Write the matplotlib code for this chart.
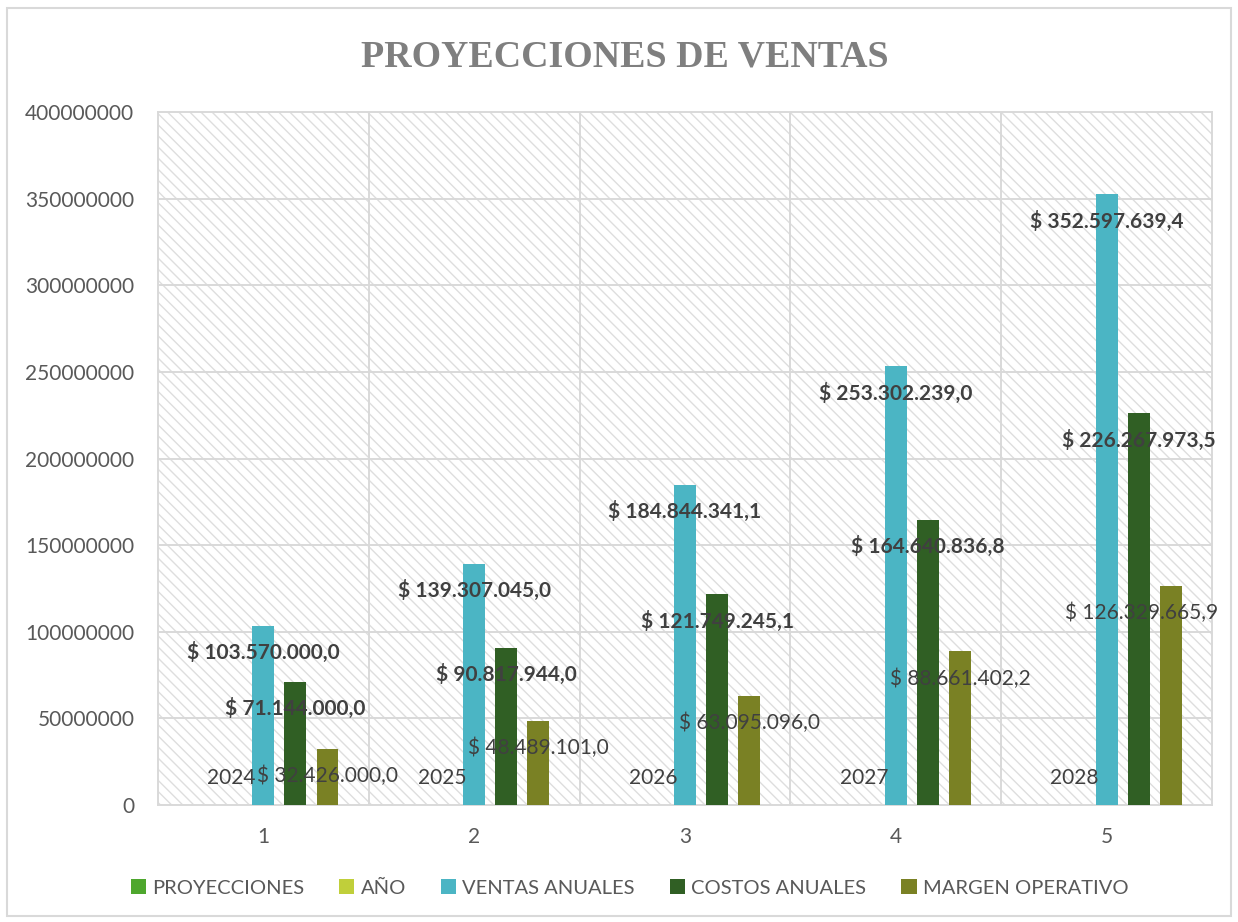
import numpy as np
import matplotlib.pyplot as plt
from matplotlib.patches import Patch, Rectangle

plt.rcParams['font.family'] = ['Lato', 'DejaVu Sans']
plt.rcParams['hatch.color'] = '#dedede'
plt.rcParams['hatch.linewidth'] = 1.0

categorias = [1, 2, 3, 4, 5]
anio = [2024, 2025, 2026, 2027, 2028]
proyecciones = [np.nan] * 5
ventas = [103570000.0, 139307045.0, 184844341.1, 253302239.0, 352597639.4]
costos = [71144000.0, 90817944.0, 121749245.1, 164640836.8, 226267973.5]
margen = [32426000.0, 48489101.0, 63095096.0, 88661402.2, 126329665.9]

series = ['PROYECCIONES', 'AÑO', 'VENTAS ANUALES', 'COSTOS ANUALES', 'MARGEN OPERATIVO']
colores = ['#4ea72e', '#c0cf3a', '#4bb5c4', '#305f24', '#7a8124']


def pesos(v):
    s = f"{v:,.1f}".replace(",", "X").replace(".", ",").replace("X", ".")
    return "$ " + s


fig = plt.figure(figsize=(12.38, 9.22), dpi=100)
ax = fig.add_axes([158/1238, 1-805/922, (1212-158)/1238, (805-112)/922])
ax.set_facecolor('white')
ax.patch.set_hatch('\\\\\\')
ax.patch.set_edgecolor('#dedede')

x = np.array(categorias, dtype=float)
paso = 0.152
ancho = 0.104
datos = [proyecciones, anio, ventas, costos, margen]
for i, (d, c) in enumerate(zip(datos, colores)):
    ax.bar(x + (i-2)*paso, d, width=ancho, color=c, zorder=3)

# etiquetas
etiquetas = []
for xi, v in zip(x - paso, anio):
    etiquetas.append(ax.annotate(str(v), (xi, v), xytext=(0, 19.5), textcoords='offset points',
                                 ha='center', va='center', fontsize=15, color='#404040', zorder=5))
for xi, v in zip(x, ventas):
    etiquetas.append(ax.annotate(pesos(v), (xi, v), xytext=(0, -19.5), textcoords='offset points',
                                 ha='center', va='center', fontsize=15, fontweight='bold',
                                 color='#404040', zorder=5))
for xi, v in zip(x + paso, costos):
    etiquetas.append(ax.annotate(pesos(v), (xi, v), xytext=(0, -19.5), textcoords='offset points',
                                 ha='center', va='center', fontsize=15, fontweight='bold',
                                 color='#404040', zorder=5))
for xi, v in zip(x + 2*paso, margen):
    etiquetas.append(ax.annotate(pesos(v), (xi, v), xytext=(0, -19.5), textcoords='offset points',
                                 ha='center', va='center', fontsize=15, color='#404040', zorder=5))

ax.set_xlim(0.5, 5.5)
ax.set_ylim(0, 400000000)
ax.set_yticks(np.arange(0, 400000001, 50000000))
ax.set_yticklabels([str(int(t)) for t in np.arange(0, 400000001, 50000000)])
ax.set_xticks(x)
ax.set_xticklabels([str(c) for c in categorias])
ax.tick_params(length=0, labelsize=15, labelcolor='#595959')
ax.tick_params(axis='x', pad=16)
ax.tick_params(axis='y', pad=17)
for yv in np.arange(50000000, 400000000, 50000000):
    ax.axhline(yv, color='#d9d9d9', lw=1.4, zorder=1)
for xv in np.arange(1.5, 5.5, 1):
    ax.axvline(xv, color='#d9d9d9', lw=1.4, zorder=1)
for s in ax.spines.values():
    s.set_color('#d9d9d9')
    s.set_linewidth(1.4)

fig.text(0.505, 1-57/922, 'PROYECCIONES DE VENTAS', ha='center', va='center',
         fontsize=27.3, fontweight='bold', color='#7f7f7f', family='Liberation Serif')

manijas = [Patch(facecolor=c, edgecolor='none') for c in colores]
fig.legend(manijas, series, loc='center', bbox_to_anchor=(0.5085, 1-888/922), ncol=5,
           frameon=False, fontsize=14.5, labelcolor='#595959', handlelength=0.75,
           handleheight=0.75, handletextpad=0.3, columnspacing=1.75)

fig.patches.append(Rectangle((7/1238, 6/922), 1-14/1238, 1-14/922, transform=fig.transFigure,
                             fill=False, edgecolor='#d9d9d9', lw=1.5))

# como Excel: mover etiquetas que se salen del grafico
fig.canvas.draw()
r = fig.canvas.get_renderer()
borde = fig.bbox.width - 20
for t in etiquetas:
    bb = t.get_window_extent(r)
    if bb.x1 > borde:
        dx, dy = t.xyann
        t.xyann = (dx - (bb.x1 - borde) * 72 / fig.dpi, dy)

fig.savefig('out.png', dpi=100)
